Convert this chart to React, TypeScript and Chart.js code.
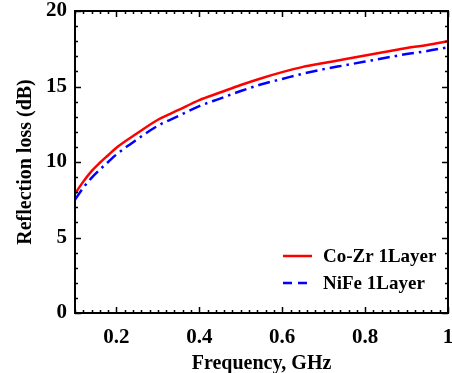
import React, { useEffect, useRef } from "react";
import { Chart, registerables } from "chart.js";

Chart.register(...registerables);

// Frequency axis (GHz)
const frequency = [
  0.1, 0.12, 0.14, 0.16, 0.18, 0.2, 0.25, 0.3, 0.35, 0.4, 0.45, 0.5, 0.55, 0.6,
  0.65, 0.7, 0.75, 0.8, 0.85, 0.9, 0.95, 1.0,
];

// Reflection loss (dB) for each film
const coZr1Layer = [
  7.9, 8.7, 9.4, 9.95, 10.45, 10.95, 11.9, 12.8, 13.45, 14.1, 14.6, 15.1, 15.55,
  15.95, 16.3, 16.55, 16.8, 17.05, 17.3, 17.55, 17.75, 18.0,
];
const niFe1Layer = [
  7.5, 8.3, 8.95, 9.5, 10.0, 10.5, 11.5, 12.4, 13.05, 13.7, 14.2, 14.7, 15.15,
  15.5, 15.85, 16.15, 16.4, 16.65, 16.9, 17.15, 17.35, 17.6,
];

const xTickValues = [0.2, 0.4, 0.6, 0.8, 1.0];
const yTickValues = [0, 5, 10, 15, 20];

const seriesLabels = ["Co-Zr 1Layer", "NiFe 1Layer"];

const FONT = "'Liberation Serif', 'Times New Roman', serif";

// Frame with inward-pointing major and minor ticks on all four sides,
// plus the legend in the lower right corner of the plot area.
const framePlugin = {
  id: "frameAndLegend",
  afterDraw(chart: any) {
    const { ctx, chartArea } = chart;
    const xs = chart.scales.x;
    const ys = chart.scales.y;
    const { left, right, top, bottom } = chartArea;
    ctx.save();
    ctx.strokeStyle = "#000";
    ctx.lineWidth = 1.5;
    ctx.beginPath();
    for (let i = 5; i <= 50; i++) {
      const v = i / 50;
      const px = Math.round(xs.getPixelForValue(v)) + 0.5;
      const major = i % 10 === 0;
      const len = major ? 6 : 3;
      ctx.moveTo(px, bottom);
      ctx.lineTo(px, bottom - len);
      ctx.moveTo(px, top);
      ctx.lineTo(px, top + len);
    }
    for (let v = 0; v <= 20; v++) {
      const py = Math.round(ys.getPixelForValue(v)) + 0.5;
      const major = v % 5 === 0;
      const len = major ? 6 : 3;
      ctx.moveTo(left, py);
      ctx.lineTo(left + len, py);
      ctx.moveTo(right, py);
      ctx.lineTo(right - len, py);
    }
    ctx.stroke();
    ctx.lineWidth = 2;
    ctx.strokeRect(left, top, right - left, bottom - top);

    // legend
    const ds = chart.data.datasets;
    const lx = left + 208;
    const rows = [bottom - 57, bottom - 30];
    ctx.font = `bold 19px ${FONT}`;
    ctx.textBaseline = "middle";
    ctx.fillStyle = "#000";
    ds.forEach((d: any, i: number) => {
      const y = rows[i];
      ctx.beginPath();
      ctx.strokeStyle = d.borderColor;
      ctx.lineWidth = 2.5;
      ctx.setLineDash(i === 0 ? [] : [9, 6]);
      ctx.moveTo(lx, y);
      ctx.lineTo(lx + 29, y);
      ctx.stroke();
      ctx.setLineDash([]);
      ctx.fillText(d.label, lx + 40, y + 1);
    });
    ctx.restore();
  },
};

export default function App() {
  const canvasRef = useRef<HTMLCanvasElement | null>(null);

  useEffect(() => {
    if (!canvasRef.current) return;
    const chart = new Chart(canvasRef.current, {
      type: "line",
      data: {
        datasets: [
          {
            label: seriesLabels[0],
            data: frequency.map((f, i) => ({ x: f, y: coZr1Layer[i] })),
            borderColor: "#ff0000",
            borderWidth: 2.5,
            pointRadius: 0,
            tension: 0.4,
            cubicInterpolationMode: "monotone",
          },
          {
            label: seriesLabels[1],
            data: frequency.map((f, i) => ({ x: f, y: niFe1Layer[i] })),
            borderColor: "#0000ff",
            borderWidth: 2.5,
            borderDash: [12, 5, 2.5, 5],
            pointRadius: 0,
            tension: 0.4,
            cubicInterpolationMode: "monotone",
          },
        ],
      },
      options: {
        animation: false,
        responsive: false,
        layout: { autoPadding: false, padding: { left: 0, right: 4, top: 11, bottom: 0 } },
        plugins: { legend: { display: false }, tooltip: { enabled: false } },
        scales: {
          x: {
            type: "linear",
            min: 0.1,
            max: 1.0,
            grid: { display: false, drawTicks: false },
            border: { display: false },
            afterBuildTicks: (scale: any) => {
              scale.ticks = xTickValues.map((v) => ({ value: v }));
            },
            afterFit: (scale: any) => {
              scale.height = 60;
              scale.paddingLeft = 0;
              scale.paddingRight = 0;
            },
            ticks: {
              color: "#000",
              padding: 12,
              maxRotation: 0,
              font: { family: FONT, size: 21, weight: "bold" },
              callback: (v: any) => (Number(v) === 1 ? "1" : Number(v).toFixed(1)),
            },
            title: {
              display: true,
              text: "Frequency, GHz",
              color: "#000",
              padding: { top: 0, bottom: -3 },
              font: { family: FONT, size: 20, weight: "bold" },
            },
          },
          y: {
            min: 0,
            max: 20,
            grid: { display: false, drawTicks: false },
            border: { display: false },
            afterBuildTicks: (scale: any) => {
              scale.ticks = yTickValues.map((v) => ({ value: v }));
            },
            afterFit: (scale: any) => {
              scale.width = 75;
              scale.paddingTop = 0;
              scale.paddingBottom = 0;
            },
            ticks: {
              color: "#000",
              padding: 8,
              font: { family: FONT, size: 21, weight: "bold" },
            },
            title: {
              display: true,
              text: "Reflection loss (dB)",
              color: "#000",
              padding: { top: 14, bottom: 0 },
              font: { family: FONT, size: 20, weight: "bold" },
            },
          },
        },
      },
      plugins: [framePlugin],
    } as any);
    return () => chart.destroy();
  }, []);

  return (
    <div style={{ position: "absolute", left: 0, top: 0, width: 452, height: 373, background: "#fff" }}>
      <canvas ref={canvasRef} width={452} height={373} />
    </div>
  );
}
